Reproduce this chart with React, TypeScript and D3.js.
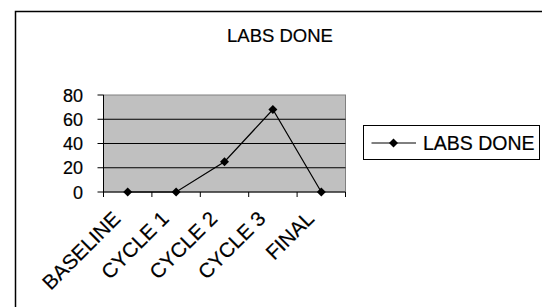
import React from "react";
import * as d3 from "d3";

const categories = ["BASELINE", "CYCLE 1", "CYCLE 2", "CYCLE 3", "FINAL"];
const labsDone = [0, 0, 25, 68, 0];
const yTicks = [0, 20, 40, 60, 80];
const seriesName = "LABS DONE";
const title = "LABS DONE";

export default function App() {
  const W = 542, H = 307;
  const left = 103.5, right = 345.5, top = 95, bottom = 192;
  const x = d3.scaleBand<string>().domain(categories).range([left, right]);
  const y = d3.scaleLinear().domain([0, 80]).range([bottom, top]);
  const line = d3.line<number>()
    .x((_, i) => (x(categories[i]) as number) + x.bandwidth() / 2)
    .y((d) => y(d));
  const diamond = (cx: number, cy: number, r = 4.5) =>
    `M${cx},${cy - r}L${cx + r},${cy}L${cx},${cy + r}L${cx - r},${cy}Z`;
  const font = "Arial, 'Liberation Sans', sans-serif";
  const bandTicks = categories.map((c) => x(c) as number).concat([right]);

  return (
    <svg width={W} height={H} style={{ position: "absolute", left: 0, top: 0 }} fontFamily={font}>
      <rect x={0} y={0} width={W} height={H} fill="#fff" />
      <rect x={15.5} y={11.5} width={W + 20} height={H + 20} fill="none" stroke="#000" strokeWidth={1.5} />
      <text x={280} y={41.5} textAnchor="middle" fontSize={18.5} fill="#000" stroke="#000" strokeWidth={0.2}>{title}</text>
      <rect x={left} y={top} width={right - left} height={bottom - top} fill="#c0c0c0" stroke="#808080" strokeWidth={1} />
      {yTicks.filter((t) => t > 0 && t < 80).map((t) => (
        <line key={t} x1={left} x2={right} y1={y(t)} y2={y(t)} stroke="#000" strokeWidth={1} />
      ))}
      {/* y axis */}
      <line x1={left} x2={left} y1={top} y2={bottom} stroke="#000" strokeWidth={1} />
      {yTicks.map((t) => (
        <g key={t}>
          <line x1={left - 6} x2={left} y1={y(t)} y2={y(t)} stroke="#000" />
          <text x={83} y={y(t) + 6.5} textAnchor="end" fontSize={18} fill="#000" stroke="#000" strokeWidth={0.2}>{t}</text>
        </g>
      ))}
      {/* x axis */}
      <line x1={left} x2={right} y1={bottom} y2={bottom} stroke="#000" strokeWidth={1} />
      {bandTicks.map((tx, i) => (
        <line key={i} x1={tx} x2={tx} y1={bottom} y2={bottom + 5} stroke="#000" />
      ))}
      {categories.map((c) => {
        const cx = (x(c) as number) + x.bandwidth() / 2;
        return (
          <text key={c} transform={`translate(${cx - 6},${220}) rotate(-45)`} textAnchor="end" fontSize={20.5} fill="#000" stroke="#000" strokeWidth={0.2}>{c}</text>
        );
      })}
      <path d={line(labsDone) || ""} fill="none" stroke="#000" strokeWidth={1.2} />
      {labsDone.map((v, i) => (
        <path key={i} d={diamond((x(categories[i]) as number) + x.bandwidth() / 2, y(v))} fill="#000" />
      ))}
      {/* legend */}
      <rect x={363.5} y={125.5} width={176} height={34} fill="#fff" stroke="#000" strokeWidth={1} />
      <line x1={371.5} x2={416} y1={143} y2={143} stroke="#000" />
      <path d={diamond(393.5, 143)} fill="#000" />
      <text x={423} y={149.5} fontSize={19.5} fill="#000" stroke="#000" strokeWidth={0.2}>{seriesName}</text>
    </svg>
  );
}
